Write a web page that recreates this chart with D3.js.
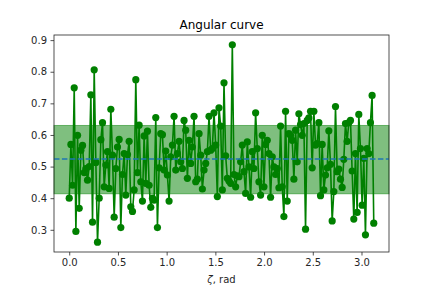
<!DOCTYPE html>
<html>
<head>
<meta charset="utf-8">
<script src="https://cdn.jsdelivr.net/npm/d3@7"></script>
<style>
body { margin: 0; background: #fff; }
svg { display: block; font-family: "DejaVu Sans", sans-serif; }
</style>
</head>
<body>
<svg id="chart" width="432" height="288"></svg>
<script>
// curve values from left to right
var curveValues = [
	0.400, 0.570, 0.441, 0.749, 0.295, 0.599, 0.368, 0.552, 0.567, 0.481, 0.494, 0.457, 0.500, 0.727,
	0.324, 0.806, 0.513, 0.261, 0.400, 0.585, 0.639, 0.436, 0.505, 0.547, 0.431, 0.681, 0.536, 0.340,
	0.494, 0.562, 0.586, 0.307, 0.475, 0.541, 0.410, 0.538, 0.580, 0.373, 0.358, 0.426, 0.775, 0.481,
	0.631, 0.452, 0.391, 0.597, 0.447, 0.612, 0.441, 0.371, 0.400, 0.394, 0.655, 0.307, 0.496, 0.604,
	0.601, 0.489, 0.549, 0.473,
	0.391, 0.531, 0.568, 0.659, 0.489, 0.541, 0.580, 0.515, 0.494, 0.646, 0.615, 0.463, 0.583, 0.510,
	0.562, 0.659, 0.452, 0.460, 0.604, 0.536, 0.429, 0.489, 0.510, 0.547, 0.659, 0.552, 0.557,
	0.670, 0.568, 0.405, 0.686,
	0.628, 0.426, 0.765, 0.534, 0.463, 0.454, 0.447, 0.885, 0.475, 0.436, 0.471, 0.468, 0.515, 0.568,
	0.484, 0.415, 0.578, 0.499, 0.403, 0.547, 0.494, 0.670, 0.557, 0.452, 0.410, 0.599, 0.436, 0.570,
	0.583,
	0.541, 0.403, 0.531, 0.499, 0.475, 0.494, 0.433, 0.628, 0.436, 0.342, 0.675, 0.391, 0.604, 0.599,
	0.583, 0.460, 0.615, 0.515, 0.667, 0.633, 0.599, 0.636, 0.302, 0.646, 0.654, 0.675, 0.496, 0.675,
	0.568, 0.573, 0.639, 0.408,
	0.570, 0.426, 0.473, 0.496, 0.613, 0.507, 0.328, 0.421, 0.690, 0.484, 0.492, 0.460, 0.434, 0.523,
	0.636, 0.580, 0.639, 0.646, 0.486, 0.334, 0.541, 0.355, 0.665, 0.557, 0.378, 0.526, 0.284, 0.557,
	0.541, 0.639, 0.725, 0.321
];
var firstZeta = 0.0;
var lastZeta = 3.126;
var meanValue = 0.524;
var bandLow = 0.414;
var bandHigh = 0.630;
var xTicks = [0.0, 0.5, 1.0, 1.5, 2.0, 2.5, 3.0];
var yTicks = [0.3, 0.4, 0.5, 0.6, 0.7, 0.8, 0.9];

var width = 432, height = 288;
var margin = {top: 35, right: 43, bottom: 36, left: 54};
var ink = "#262626";

var points = curveValues.map(function(v, i)
{
	return {zeta: firstZeta + i * (lastZeta - firstZeta) / (curveValues.length - 1), value: v};
});

// matplotlib style 5% padding
var xPad = (lastZeta - firstZeta) * 0.05;
var yExt = d3.extent(curveValues);
var yPad = (yExt[1] - yExt[0]) * 0.05;

var x = d3.scaleLinear().domain([firstZeta - xPad, lastZeta + xPad]).range([margin.left, width - margin.right]);
var y = d3.scaleLinear().domain([yExt[0] - yPad, yExt[1] + yPad]).range([height - margin.bottom, margin.top]);

var svg = d3.select("#chart");

// std band
svg.append("rect")
	.attr("x", margin.left)
	.attr("y", y(bandHigh))
	.attr("width", width - margin.left - margin.right)
	.attr("height", y(bandLow) - y(bandHigh))
	.attr("fill", "green").attr("fill-opacity", 0.5)
	.attr("stroke", "green").attr("stroke-opacity", 0.5).attr("stroke-width", 1);

var line = d3.line().x(function(d){ return x(d.zeta); }).y(function(d){ return y(d.value); });

svg.append("path").datum(points)
	.attr("d", line)
	.attr("fill", "none")
	.attr("stroke", "green")
	.attr("stroke-width", 1.6)
	.attr("stroke-linejoin", "round");

svg.append("g").selectAll("circle").data(points).enter().append("circle")
	.attr("cx", function(d){ return x(d.zeta); })
	.attr("cy", function(d){ return y(d.value); })
	.attr("r", 3.6)
	.attr("fill", "green");

// mean line
svg.append("line")
	.attr("x1", margin.left).attr("x2", width - margin.right)
	.attr("y1", y(meanValue)).attr("y2", y(meanValue))
	.attr("stroke", "#1f77b4").attr("stroke-width", 1.5)
	.attr("stroke-dasharray", "5.5,2.4");

// axes
var xAxis = svg.append("g").attr("transform", "translate(0," + (height - margin.bottom) + ")")
	.call(d3.axisBottom(x).tickValues(xTicks).tickFormat(d3.format(".1f")).tickSizeOuter(0).tickSize(3.5).tickPadding(3.5));
var yAxis = svg.append("g").attr("transform", "translate(" + margin.left + ",0)")
	.call(d3.axisLeft(y).tickValues(yTicks).tickFormat(d3.format(".1f")).tickSizeOuter(0).tickSize(3.5).tickPadding(3.5));

[xAxis, yAxis].forEach(function(g)
{
	g.select(".domain").remove();
	g.selectAll("line").attr("stroke", ink).attr("stroke-width", 0.8);
	g.selectAll("text").attr("fill", ink).style("font-size", "10px").style("font-family", "DejaVu Sans");
});

// frame
svg.append("rect")
	.attr("x", margin.left).attr("y", margin.top)
	.attr("width", width - margin.left - margin.right)
	.attr("height", height - margin.top - margin.bottom)
	.attr("fill", "none").attr("stroke", ink).attr("stroke-width", 0.8);

svg.append("text")
	.attr("x", (margin.left + width - margin.right) / 2).attr("y", 29)
	.attr("text-anchor", "middle").attr("fill", "#000")
	.style("font-size", "12px")
	.text("Angular curve");

var xl = svg.append("text")
	.attr("x", (margin.left + width - margin.right) / 2).attr("y", 283)
	.attr("text-anchor", "middle").attr("fill", ink)
	.style("font-size", "10px");
xl.append("tspan").style("font-style", "italic").text("ζ");
xl.append("tspan").text(", rad");
</script>
</body>
</html>
